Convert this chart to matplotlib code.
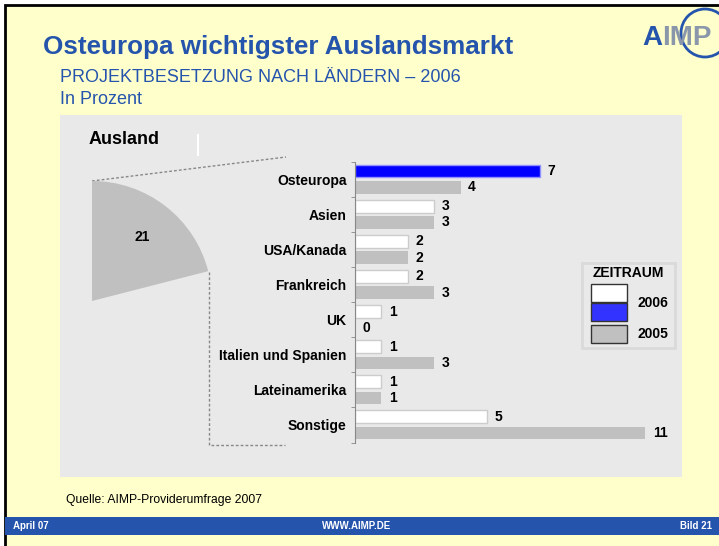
import numpy as np
import matplotlib
matplotlib.use("Agg")
import matplotlib.pyplot as plt
from matplotlib.patches import Rectangle, Circle

plt.rcParams['font.family'] = ['Liberation Sans', 'DejaVu Sans']

# data
categories = ['Osteuropa', 'Asien', 'USA/Kanada', 'Frankreich', 'UK',
              'Italien und Spanien', 'Lateinamerika', 'Sonstige']
values_2006 = [7, 3, 2, 2, 1, 1, 1, 5]
values_2005 = [4, 3, 2, 3, 0, 3, 1, 11]
ausland_share = 21
years = ['2006', '2005']

BLUE = '#2554AD'
YELLOW = '#FFFFCC'
PANEL = '#E9E9E9'
GRAY = '#C0C0C0'

W, H = 719, 546
fig = plt.figure(figsize=(W / 100, H / 100), dpi=100)
fig.patch.set_facecolor('white')

# background axes in pixel coordinates
bg = fig.add_axes([0, 0, 1, 1])
bg.set_xlim(0, W)
bg.set_ylim(H, 0)
bg.axis('off')
bg.add_patch(Rectangle((5, 5), W + 10, H + 10, facecolor=YELLOW, edgecolor='black', lw=2))
bg.add_patch(Rectangle((60, 115), 622, 362, facecolor=PANEL, edgecolor='none'))
bg.add_patch(Rectangle((5, 517), W, 18, facecolor=BLUE, edgecolor='none'))

bg.text(43, 47, 'Osteuropa wichtigster Auslandsmarkt', fontsize=18.7, fontweight='bold',
        color=BLUE, va='center', ha='left')
bg.text(60, 78, 'PROJEKTBESETZUNG NACH LÄNDERN – 2006', fontsize=13, color=BLUE,
        va='center', ha='left')
bg.text(60, 99, 'In Prozent', fontsize=13, color=BLUE, va='center', ha='left')

# logo
bg.add_patch(Circle((705, 33), 24, fill=False, edgecolor=BLUE, lw=2))
bg.text(642, 38, 'A', fontsize=20, fontweight='bold', color=BLUE, va='center', ha='left')
bg.text(662, 38, 'IMP', fontsize=20, fontweight='bold', color='#8A97AA', va='center', ha='left')

bg.text(89, 140, 'Ausland', fontsize=13, fontweight='bold', va='center', ha='left')
bg.plot([198, 198], [135, 155], color='white', lw=1.5)

# connector lines
bg.plot([92, 286], [181, 157], color='#888888', lw=1, ls=(0, (2, 1.5)))
bg.plot([209, 209, 285], [272, 445, 445], color='#888888', lw=1, ls=(0, (2, 1.5)))

# footer
bg.text(66, 500, 'Quelle: AIMP-Providerumfrage 2007', fontsize=8.75, va='center', ha='left')
bg.text(13, 526, 'April 07', fontsize=7, fontweight='bold', color='white', va='center', ha='left')
bg.text(357, 526, 'WWW.AIMP.DE', fontsize=7, fontweight='bold', color='white', va='center', ha='center')
bg.text(712, 526, 'Bild 21', fontsize=7, fontweight='bold', color='white', va='center', ha='right')

# legend
bg.add_patch(Rectangle((582, 263), 93, 85, facecolor=PANEL, edgecolor='#DADADA', lw=2))
bg.text(628, 273, 'ZEITRAUM', fontsize=10, fontweight='bold', va='center', ha='center')
bg.add_patch(Rectangle((591, 284), 36, 18, facecolor='white', edgecolor='#333333', lw=1))
bg.add_patch(Rectangle((591, 303), 36, 18, facecolor='#3333FF', edgecolor='#333333', lw=1))
bg.add_patch(Rectangle((591, 325), 36, 18, facecolor=GRAY, edgecolor='#333333', lw=1))
bg.text(653, 303, years[0], fontsize=10, fontweight='bold', va='center', ha='center')
bg.text(653, 334, years[1], fontsize=10, fontweight='bold', va='center', ha='center')

# pie wedge
cx, cy, r = 92, 301, 120
pax = fig.add_axes([(cx - r) / W, 1 - (cy + r) / H, 2 * r / W, 2 * r / H])
pax.pie([ausland_share, 100 - ausland_share], colors=[GRAY, 'none'], startangle=90,
        counterclock=False, radius=1,
        autopct=lambda p: f'{p:.0f}' if p < 50 else '', pctdistance=0.68,
        textprops=dict(fontsize=10, fontweight='bold'))
pax.set_xlim(-1, 1)
pax.set_ylim(-1, 1)
pax.patch.set_alpha(0)

# bar chart
px_per_unit = 26.4
ytop, ybot = 161.7, 442.5
bax = fig.add_axes([355 / W, 1 - ybot / H, 12 * px_per_unit / W, (ybot - ytop) / H])
bax.patch.set_alpha(0)
y = np.arange(len(categories))
h = 0.36
c06 = ['#0000FF' if c == 'Osteuropa' else 'white' for c in categories]
e06 = ['#9090FF' if c == 'Osteuropa' else '#CCCCCC' for c in categories]
b1 = bax.barh(y - 0.232, values_2006, height=h, color=c06, edgecolor=e06, lw=1)
b2 = bax.barh(y + 0.232, values_2005, height=h, color=GRAY, edgecolor='none')
bax.bar_label(b1, padding=5.5, fontsize=10, fontweight='bold')
bax.bar_label(b2, padding=5.5, fontsize=10, fontweight='bold')
bax.set_xlim(0, 12)
bax.set_ylim(len(categories) - 0.5, -0.5)
bax.set_yticks(y)
bax.set_yticklabels(categories, fontsize=10, fontweight='bold')
bax.set_yticks(np.arange(len(categories) + 1) - 0.5, minor=True)
bax.tick_params(axis='y', which='major', length=0, pad=6)
bax.tick_params(axis='y', which='minor', length=3, color='#888888', direction='out')
bax.set_xticks([])
for s in ['top', 'right', 'bottom']:
    bax.spines[s].set_visible(False)
bax.spines['left'].set_color('#888888')

fig.savefig('out.png', dpi=100)
